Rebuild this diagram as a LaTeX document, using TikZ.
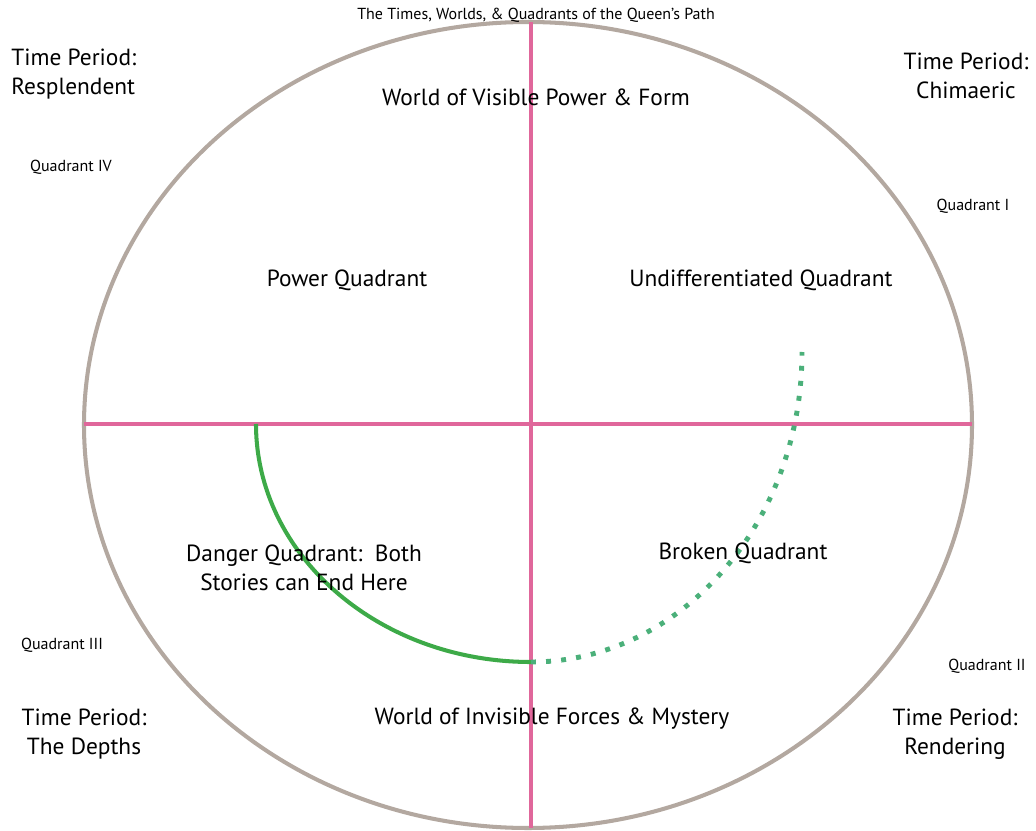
\documentclass[tikz,border=0pt]{standalone}
\usepackage{fontspec}
\setmainfont{PT Sans}
\definecolor{rimgray}{HTML}{B3A8A0}
\definecolor{axispink}{HTML}{E0679B}
\definecolor{pathgreen}{HTML}{3DAA48}
\definecolor{dotgreen}{HTML}{4BB07A}
\begin{document}
\begin{tikzpicture}[x=0.02cm,y=-0.02cm,
  big/.style={font=\fontsize{13.3}{16.8}\selectfont, align=center, inner sep=0pt},
  small/.style={font=\fontsize{9.1}{11}\selectfont, inner sep=0pt},
  rim/.style={draw=rimgray, line width=2.3pt},
  axis/.style={draw=axispink, line width=2.1pt},
  solidpath/.style={draw=pathgreen, line width=2.3pt},
  dotpath/.style={draw=dotgreen, line width=2.8pt, dash pattern=on 2.8pt off 5.8pt}]
\useasboundingbox (0,0) rectangle (1036,831);
% outer ellipse
\coordinate (c) at (528,425);
\draw[rim] (c) ellipse [x radius=444, y radius=403];
% axes
\coordinate (vtop) at (531,22);
\coordinate (vbot) at (531,828);
\coordinate (hl) at (84,424);
\coordinate (hr) at (972,424);
\draw[axis] (vtop) -- (vbot);
\draw[axis] (hl) -- (hr);
% green paths
\coordinate (s0) at (256,424);
\coordinate (bottom) at (531,662);
\draw[solidpath] (s0) arc [start angle=180, end angle=270, x radius=275, y radius=-238];
\draw[dotpath] (bottom) arc [start angle=270, end angle=360, x radius=271, y radius=-310];
% texts
\node[small] (title) at (536,15) {The Times, Worlds, \& Quadrants of the Queen’s Path};
\node[big, align=left, anchor=west] (tp4) at (11,74) {Time Period:\\Resplendent};
\node[big] (tp1) at (966,76) {Time Period:\\Chimaeric};
\node[small] (q4) at (71,167) {Quadrant IV};
\node[small] (q1) at (973,206) {Quadrant I};
\node[big] (wvis) at (536,97) {World of Visible Power \& Form};
\node[big] (power) at (347,280) {Power Quadrant};
\node[big] (undiff) at (761,280) {Undifferentiated Quadrant};
\node[big] (danger) at (304,568) {Danger Quadrant:\ \ Both\\Stories can End Here};
\node[big] (broken) at (743,553) {Broken Quadrant};
\node[small] (q3) at (62,645) {Quadrant III};
\node[small] (q2) at (987,666) {Quadrant II};
\node[big] (tp3) at (84,734) {Time Period:\\The Depths};
\node[big] (winv) at (552,719) {World of Invisible Forces \& Mystery};
\node[big] (tp2) at (955,734) {Time Period:\\Rendering};
\end{tikzpicture}
\end{document}
